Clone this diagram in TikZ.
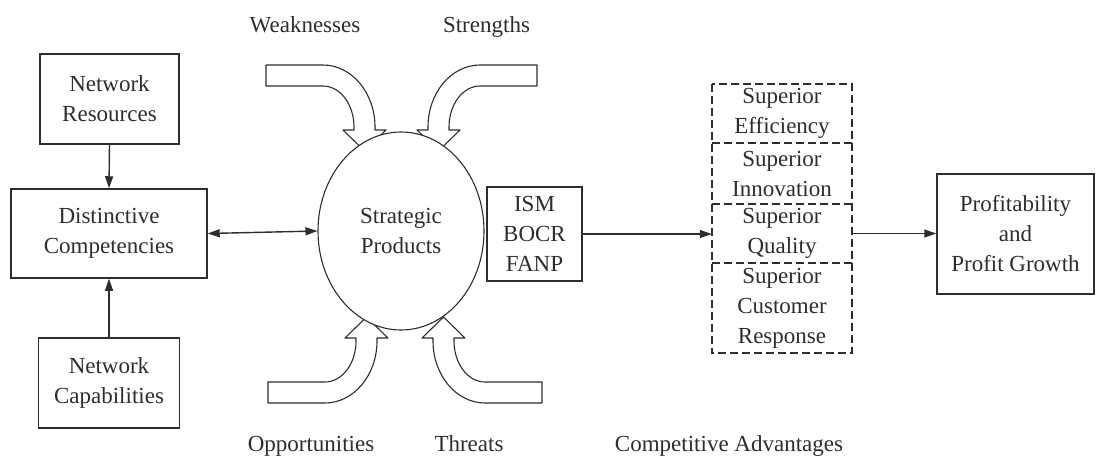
\documentclass[tikz,border=0pt]{standalone}
\usepackage{fontspec}
\setmainfont{Liberation Serif}
\usetikzlibrary{arrows.meta,shapes.geometric}
\definecolor{ink}{RGB}{45,45,45}
\begin{document}
\begin{tikzpicture}[x=1pt,y=-1pt,
  txt/.style={text=ink, font=\fontsize{23}{30}\selectfont},
  box/.style={txt, draw=ink, line width=1.5pt, inner sep=0pt, align=center},
  cell/.style={txt, inner sep=0pt, align=center, minimum width=140pt},
  dline/.style={draw=ink, line width=1.6pt, dash pattern=on 8pt off 4pt},
  lbl/.style={txt, inner sep=0pt, anchor=base},
  conn/.style={draw=ink, line width=1.4pt},
  tip/.style={-{Triangle[length=12pt,width=8pt]}},
  dtip/.style={{Triangle[length=12pt,width=8pt]}-{Triangle[length=12pt,width=8pt]}},
  barrow/.style={draw=ink, fill=white, line width=1.1pt, line join=round}]
\useasboundingbox (0,0) rectangle (1096,456);

% left boxes
\node[box, minimum width=139pt, minimum height=90pt] (nr) at (109.5,99) {Network\\Resources};
\node[box, minimum width=196pt, minimum height=89pt] (dc) at (109,233.5) {Distinctive\\Competencies};
\node[box, minimum width=141pt, minimum height=90pt] (nc) at (109,383) {Network\\Capabilities};

% curved block arrows
\draw[barrow] (266,65) -- (323,65) .. controls (351.7,65) and (375,92.8) .. (375,127) -- (375,130) -- (386,130) -- (364.5,151) -- (343,130) -- (354,130) -- (354,127) .. controls (354,104.4) and (340.1,86) .. (323,86) -- (266,86) -- cycle;
\draw[barrow] (537,65) -- (480,65) .. controls (451.3,65) and (428,92.8) .. (428,127) -- (428,130) -- (417,130) -- (438.5,151) -- (460,130) -- (449,130) -- (449,127) .. controls (449,104.4) and (462.9,86) .. (480,86) -- (537,86) -- cycle;
\draw[barrow] (268,403) -- (325,403) .. controls (353.7,403) and (377,375.2) .. (377,341) -- (377,338) -- (388,338) -- (366.5,317) -- (345,338) -- (356,338) -- (356,341) .. controls (356,363.6) and (342.1,382) .. (325,382) -- (268,382) -- cycle;
\draw[barrow] (542,403) -- (485,403) .. controls (456.3,403) and (433,375.2) .. (433,341) -- (433,338) -- (422,338) -- (443.5,317) -- (465,338) -- (454,338) -- (454,341) .. controls (454,363.6) and (467.9,382) .. (485,382) -- (542,382) -- cycle;

% central ellipse
\node[box, ellipse, fill=white, line width=1.1pt, minimum width=166pt, minimum height=198pt] (sp) at (401,231) {Strategic\\Products};

\node[box, minimum width=95pt, minimum height=94pt] (ism) at (534.5,234) {ISM\\BOCR\\FANP};

% competitive advantages stack
\node[cell, minimum height=59pt] (se) at (782,113.5) {Superior\\Efficiency};
\node[cell, minimum height=61pt] (si) at (782,173.5) {Superior\\Innovation};
\node[cell, minimum height=59pt] (sq) at (782,233.5) {Superior\\Quality};
\node[cell, minimum height=90pt] (sc) at (782,308) {Superior\\Customer\\Response};
\draw[dline] (se.north west) rectangle (sc.south east);
\draw[dline] (se.south west) -- (se.south east);
\draw[dline] (si.south west) -- (si.south east);
\draw[dline] (sq.south west) -- (sq.south east);

\node[box, minimum width=157pt, minimum height=120pt] (pg) at (1015.5,234) {Profitability\\and\\Profit Growth};

% labels
\node[lbl] (wk) at (305,32) {Weaknesses};
\node[lbl] (st) at (486.5,32) {Strengths};
\node[lbl] (op) at (311,451) {Opportunities};
\node[lbl] (th) at (469,451) {Threats};
\node[lbl] (ca) at (729,451) {Competitive Advantages};

% connectors
\draw[conn, tip] (nr.south) -- (dc.north);
\draw[conn, tip] (nc.north) -- (dc.south);
\draw[conn, dtip] (dc.east) -- (sp.west);
\draw[conn, tip] (ism.east) -- (ism.east -| sq.west);
\draw[conn, tip] (sq.east) -- (sq.east -| pg.west);
\end{tikzpicture}
\end{document}
